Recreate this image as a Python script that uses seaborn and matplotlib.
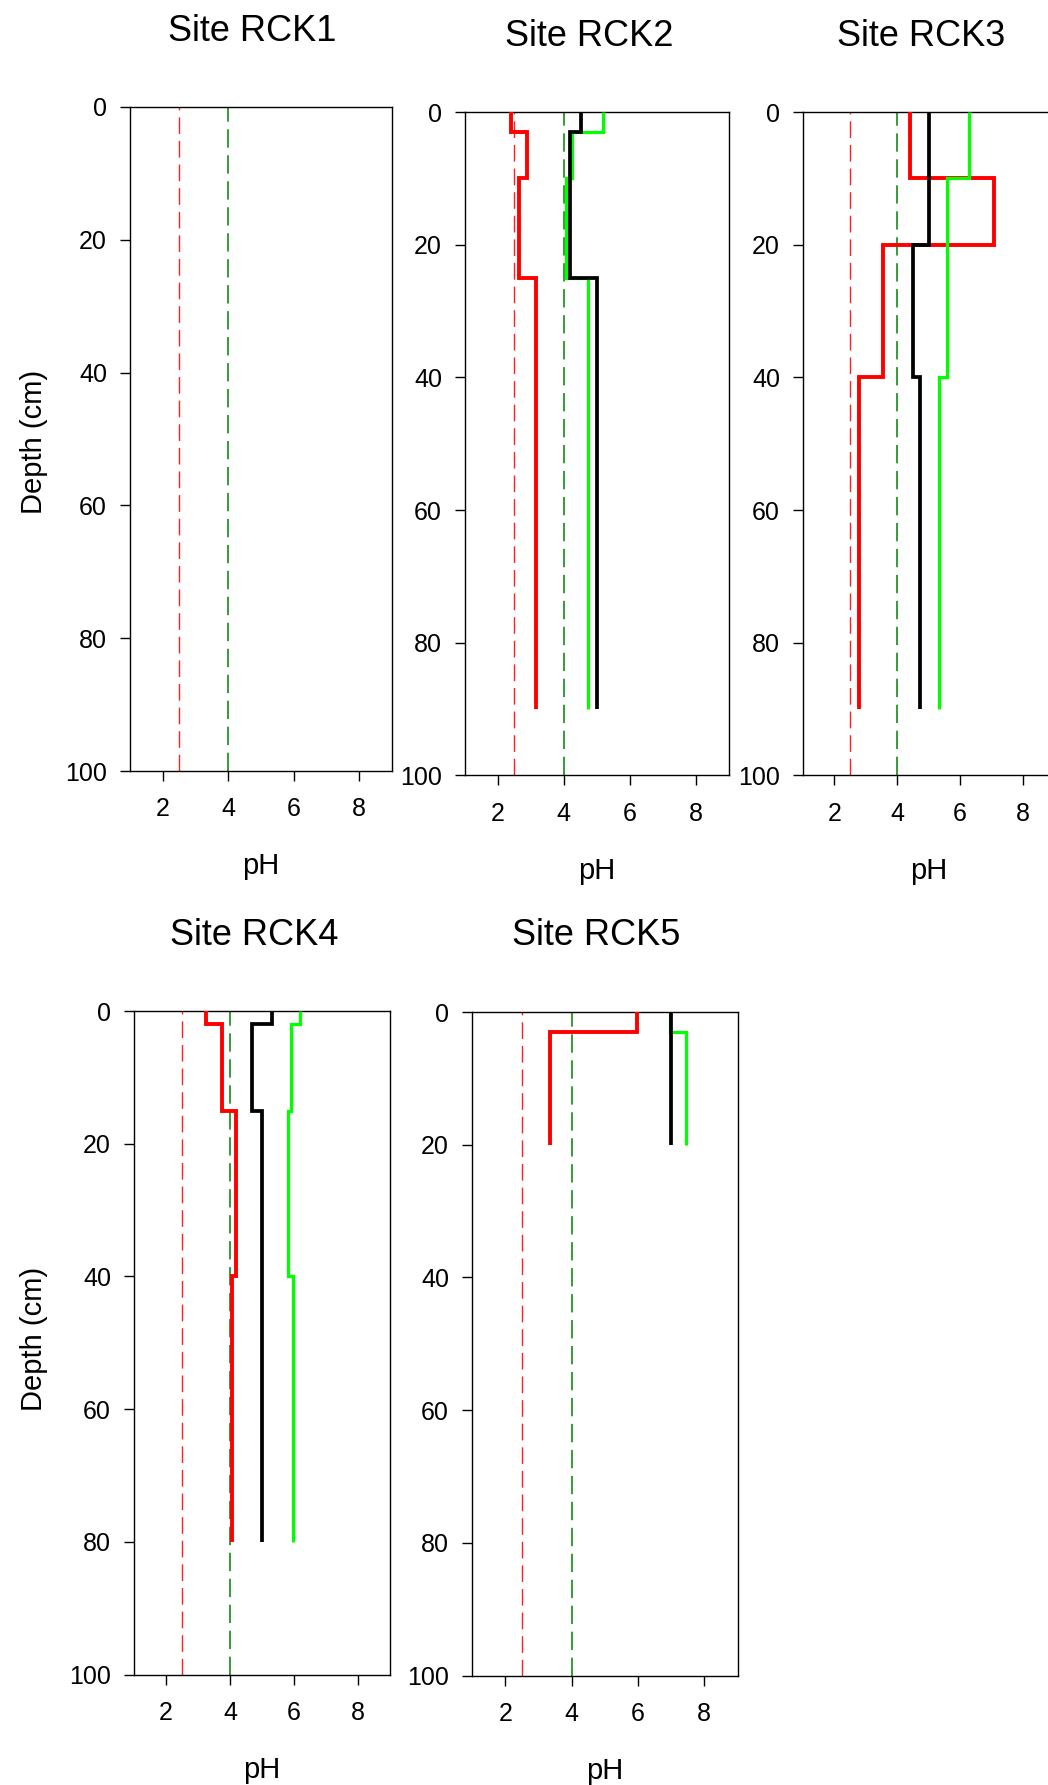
import numpy as np
import pandas as pd
import matplotlib
matplotlib.use("Agg")
import matplotlib.pyplot as plt
import seaborn as sns

# ---------------- data ----------------
site_names = ["Site RCK1", "Site RCK2", "Site RCK3", "Site RCK4", "Site RCK5"]

# layer boundaries (cm) and pH of each layer for the three profiles
rck1_depths = []
rck1_red = []
rck1_black = []
rck1_green = []

rck2_depths = [0, 3, 10, 25, 90]
rck2_red = [2.41, 2.88, 2.63, 3.16]
rck2_black = [4.51, 4.20, 4.20, 5.02]
rck2_green = [5.19, 4.25, 4.07, 4.73]

rck3_depths = [0, 10, 20, 40, 90]
rck3_red = [4.41, 7.09, 3.56, 2.77]
rck3_black = [5.02, 5.02, 4.50, 4.73]
rck3_green = [6.28, 5.58, 5.58, 5.35]

rck4_depths = [0, 2, 15, 40, 80]
rck4_red = [3.24, 3.74, 4.19, 4.06]
rck4_black = [5.30, 4.69, 4.99, 4.99]
rck4_green = [6.19, 5.91, 5.80, 5.96]

rck5_depths = [0, 3, 20]
rck5_red = [5.98, 3.36]
rck5_black = [7.01, 7.01]
rck5_green = [6.97, 7.46]

ref_red_ph = 2.5
ref_green_ph = 4.0

x_ticks = [2, 4, 6, 8]
y_ticks = [0, 20, 40, 60, 80, 100]
x_range = (1, 9)
y_range = (100, 0)

site_data = [
    (rck1_depths, rck1_red, rck1_black, rck1_green),
    (rck2_depths, rck2_red, rck2_black, rck2_green),
    (rck3_depths, rck3_red, rck3_black, rck3_green),
    (rck4_depths, rck4_red, rck4_black, rck4_green),
    (rck5_depths, rck5_red, rck5_black, rck5_green),
]

# ---------------- style ----------------
sns.set_theme(style="white")
plt.rcParams["font.family"] = ["Liberation Sans", "DejaVu Sans"]

W, H = 1048, 1785
fig = plt.figure(figsize=(W / 100, H / 100), dpi=100)

# axes boxes in pixels: left, top, right, bottom
boxes = [
    (130, 107, 392, 771),
    (465, 112, 728.5, 775.5),
    (803, 112, 1054, 775.5),
    (134, 1011, 390, 1674.5),
    (472, 1012, 737.5, 1675.5),
]
title_pos = [(252, 40.7), (589, 46), (921, 46), (254.5, 945), (596, 945)]
ph_baseline = [874, 879, 879, 1778, 1779]
depth_label_y = {0: 441.5, 3: 1339}

series_style = [
    ("red", "#ff0000", 2.8),
    ("green", "#00ff00", 2.3),
    ("black", "#000000", 2.7),
]


def step_frame(depths, values):
    rows = []
    for i, v in enumerate(values):
        rows.append((v, depths[i]))
        rows.append((v, depths[i + 1]))
    return pd.DataFrame(rows, columns=["pH", "depth"])


for k, (box, (depths, red, black, green)) in enumerate(zip(boxes, site_data)):
    l, t, r, b = box
    ax = fig.add_axes([l / W, 1 - b / H, (r - l) / W, (b - t) / H])
    ax.set_facecolor("white")

    # reference lines
    ax.axvline(ref_red_ph, color="#ff2020", lw=1.0, dashes=(12, 5), zorder=1)
    ax.axvline(ref_green_ph, color="#008000", lw=1.1, dashes=(12, 5), zorder=1)

    vals = {"red": red, "black": black, "green": green}
    for name, col, lw in series_style:
        v = vals[name]
        if len(v) == 0:
            continue
        df = step_frame(depths, v)
        sns.lineplot(data=df, x="pH", y="depth", sort=False, estimator=None,
                     color=col, lw=lw, ax=ax, legend=False, zorder=3,
                     solid_joinstyle="miter", solid_capstyle="butt")

    ax.set_xlim(*x_range)
    ax.set_ylim(*y_range)
    ax.set_xticks(x_ticks)
    ax.set_yticks(y_ticks)
    ax.set_xlabel("")
    ax.set_ylabel("")
    for s in ax.spines.values():
        s.set_visible(True)
        s.set_color("black")
        s.set_linewidth(1.0)
    ax.tick_params(axis="both", which="both", direction="out", length=7,
                   width=1.0, color="black", labelsize=18, labelcolor="black",
                   bottom=True, left=True, top=False, right=False)
    ax.tick_params(axis="x", pad=12)
    ax.tick_params(axis="y", pad=9.5)
    ax.grid(False)

    # title
    tx, ty = title_pos[k]
    fig.text(tx / W, 1 - ty / H, site_names[k], ha="center", va="baseline",
             fontsize=26, color="black")
    # x label
    fig.text(((l + r) / 2) / W, 1 - ph_baseline[k] / H, "pH", ha="center",
             va="baseline", fontsize=21, color="black")
    # y label
    if k in depth_label_y:
        fig.text(42 / W, 1 - depth_label_y[k] / H, "Depth (cm)", rotation=90,
                 rotation_mode="anchor", ha="center", va="baseline",
                 fontsize=21, color="black")

fig.savefig("out.png", dpi=100, facecolor="white")
